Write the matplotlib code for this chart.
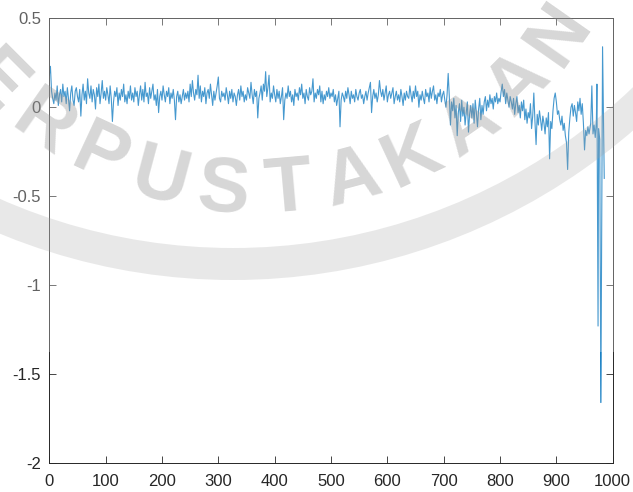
import numpy as np
import matplotlib
matplotlib.use("Agg")
import matplotlib.pyplot as plt
from matplotlib.patches import Wedge, Rectangle

plt.rcParams['font.family'] = ['Liberation Sans', 'DejaVu Sans']
plt.rcParams['axes.unicode_minus'] = False

# signal sampled every 2 steps up to index 958 (one row = 50 steps)
step = 2
sig_main = [
    0.18, 0.23, 0.09, 0.05, 0.02, 0.08, 0.04, 0.12, 0.01, 0.07, 0.10, 0.03, 0.13, 0.06, 0.09, 0.02, 0.11, 0.05, -0.02, 0.08, 0.12, 0.04, 0.01, 0.09, 0.11,
    0.06, 0.03, 0.10, -0.05, 0.07, 0.13, 0.04, 0.09, 0.02, 0.16, 0.08, 0.05, 0.12, 0.03, 0.10, 0.07, -0.01, 0.11, 0.06, 0.13, 0.02, 0.08, 0.15, 0.05, 0.09,
    0.04, 0.11, 0.07, 0.02, 0.12, 0.05, -0.08, 0.03, 0.09, 0.06, 0.11, 0.01, 0.08, 0.04, 0.10, 0.06, 0.13, 0.03, 0.07, 0.02, 0.09, 0.05, 0.12, 0.04, 0.08,
    0.03, 0.11, 0.06, 0.09, 0.01, 0.07, 0.12, 0.04, 0.10, 0.03, 0.14, 0.06, 0.08, 0.02, 0.11, 0.05, 0.09, 0.13, 0.04, 0.07, 0.01, 0.10, -0.03, 0.06, 0.09,
    0.04, 0.12, 0.07, 0.03, 0.09, 0.06, 0.11, 0.02, 0.08, 0.05, 0.10, 0.04, -0.07, 0.06, 0.09, 0.03, 0.07, 0.02, 0.06, 0.10, 0.04, 0.08, 0.05, 0.09, 0.03,
    0.13, 0.06, 0.15, 0.08, 0.04, 0.10, 0.07, 0.18, 0.05, 0.12, 0.03, 0.09, 0.06, 0.11, 0.02, 0.08, 0.10, 0.05, 0.13, 0.07, 0.01, 0.09, 0.04, 0.08, 0.12,
    0.17, 0.05, 0.03, 0.09, 0.06, 0.08, 0.04, 0.11, 0.07, 0.02, 0.09, 0.05, 0.10, 0.03, 0.08, 0.06, 0.01, 0.07, 0.10, 0.04, 0.12, 0.06, 0.09, 0.03, 0.07,
    0.04, 0.11, 0.08, 0.05, 0.14, 0.07, 0.02, 0.10, 0.06, 0.09, -0.06, 0.05, 0.08, 0.12, 0.04, 0.13, 0.09, 0.20, 0.06, 0.11, 0.18, 0.03, 0.08, 0.05, 0.12,
    0.07, 0.03, 0.10, 0.05, 0.09, 0.02, 0.06, 0.11, -0.07, 0.04, 0.08, 0.05, 0.12, 0.06, 0.09, 0.03, 0.07, 0.01, 0.10, 0.06, 0.08, 0.04, 0.11, 0.07, 0.13,
    0.05, 0.08, 0.02, 0.10, 0.06, 0.04, 0.11, 0.07, 0.09, 0.16, 0.03, 0.08, 0.05, 0.10, 0.07, 0.12, 0.03, 0.09, 0.02, 0.07, 0.04, 0.09, 0.06, 0.11, 0.05,
    0.08, 0.06, 0.10, 0.03, 0.07, 0.01, 0.05, 0.09, -0.11, 0.04, 0.08, 0.06, 0.03, 0.09, 0.05, 0.11, 0.07, 0.02, 0.09, 0.05, 0.07, 0.03, 0.10, 0.06, 0.04,
    0.08, 0.10, 0.05, 0.07, 0.02, 0.06, 0.09, 0.04, 0.08, 0.11, 0.14, -0.03, 0.06, 0.10, 0.05, 0.08, 0.03, 0.07, 0.15, 0.09, 0.06, 0.10, 0.04, 0.08, 0.12,
    0.03, 0.07, 0.09, 0.05, 0.08, 0.11, 0.02, 0.06, 0.09, 0.04, 0.07, 0.03, 0.10, 0.06, 0.01, 0.08, 0.04, 0.09, 0.06, 0.05, 0.12, 0.07, 0.03, 0.09, 0.05,
    0.12, 0.06, 0.09, 0.00, 0.07, 0.04, 0.09, 0.05, 0.02, 0.10, 0.06, 0.08, 0.03, 0.11, 0.05, 0.09, 0.12, 0.04, 0.07, 0.02, 0.08, 0.06, 0.10, 0.03, 0.07,
    0.09, 0.04, 0.00, 0.07, 0.19, 0.06, -0.10, 0.03, -0.02, 0.05, -0.06, 0.01, -0.16, -0.03, 0.02, -0.08, 0.04, -0.05, 0.00, -0.10, -0.03, 0.03, -0.14, -0.04, 0.01,
    -0.06, 0.02, -0.09, 0.04, -0.03, -0.11, -0.01, 0.05, -0.07, 0.01, -0.04, 0.03, 0.06, -0.02, 0.04, 0.00, 0.07, 0.02, 0.05, -0.01, 0.06, 0.03, 0.08, 0.02, 0.05,
    0.03, 0.09, 0.13, 0.06, 0.10, 0.02, 0.08, 0.04, 0.00, 0.06, 0.03, -0.01, 0.05, -0.04, 0.02, 0.06, -0.03, 0.01, -0.06, 0.03, -0.02, 0.04, -0.07, -0.01, -0.09,
    -0.03, -0.06, 0.02, -0.12, -0.05, 0.08, -0.08, -0.21, -0.04, -0.10, -0.02, -0.07, -0.13, -0.05, -0.09, -0.15, -0.06, -0.11, -0.03, -0.29, -0.08, -0.12, -0.02, 0.05, 0.08,
    0.03, -0.04, -0.02, -0.07, -0.10, -0.05, -0.13, -0.09, -0.16, -0.20, -0.35, -0.14, -0.06, 0.00, 0.02, -0.05, 0.01, -0.03, -0.08, 0.03, -0.02, 0.05, -0.04, 0.02, -0.09,
    -0.24, -0.13, -0.16, -0.11, -0.15,
]
# last samples, where the signal breaks down
idx_tail = [961, 963, 965, 967, 969, 971, 972, 974, 975, 977, 979, 982, 985]
sig_tail = [-0.09, 0.12, -0.15, -0.10, -0.17, -0.08, 0.13, -1.23, -0.12, -0.18, -1.66, 0.34, -0.40]

xticks = [0, 100, 200, 300, 400, 500, 600, 700, 800, 900, 1000]
yticks = [-2, -1.5, -1, -0.5, 0, 0.5]
ytick_labels = ['-2', '-1.5', '-1', '-0.5', '0', '0.5']

idx = np.concatenate([np.arange(len(sig_main)) * step, idx_tail])
sig = np.concatenate([sig_main, sig_tail])

W, H = 633, 492
fig = plt.figure(figsize=(W / 100, H / 100), dpi=100)
ax = fig.add_axes([49.3 / W, 29 / H, 563.4 / W, 444.7 / H])
ax.plot(idx, sig, color='#0072BD', lw=0.8)
ax.set_xlim(0, 1000)
ax.set_ylim(-2, 0.5)
ax.set_xticks(xticks)
ax.set_xticklabels([str(t) for t in xticks])
ax.set_yticks(yticks)
ax.set_yticklabels(ytick_labels)
ax.tick_params(direction='in', length=5, width=0.6, top=True, right=True,
               labelsize=12, colors='#262626', pad=6)
ax.tick_params(axis='x', pad=8)
for s in ax.spines.values():
    s.set_linewidth(0.7)
    s.set_color('#262626')

# library stamp laid over everything, in pixel units
wm = fig.add_axes([0, 0, 1, 1], zorder=5)
wm.set_xlim(0, W)
wm.set_ylim(H, 0)
wm.axis('off')
wm.patch.set_alpha(0)
wm.add_patch(Rectangle((0, 0), W, 352, color='white', alpha=0.28, lw=0))

ring = Wedge((233, -330), 610, 20, 160, width=32, color='#a0a0a0', alpha=0.24, lw=0)
wm.add_patch(ring)

cx, cy, r = 256, -178, 370
for i, ch in enumerate("PERPUSTAKAAN"):
    th = np.radians(-55 + 10 * i)
    wm.text(cx + r * np.sin(th), cy + r * np.cos(th), ch, rotation=np.degrees(th),
            rotation_mode='anchor', ha='center', va='center', fontsize=56,
            fontweight='bold', color='#909090', alpha=0.36)

fig.savefig('out.png', dpi=100)
